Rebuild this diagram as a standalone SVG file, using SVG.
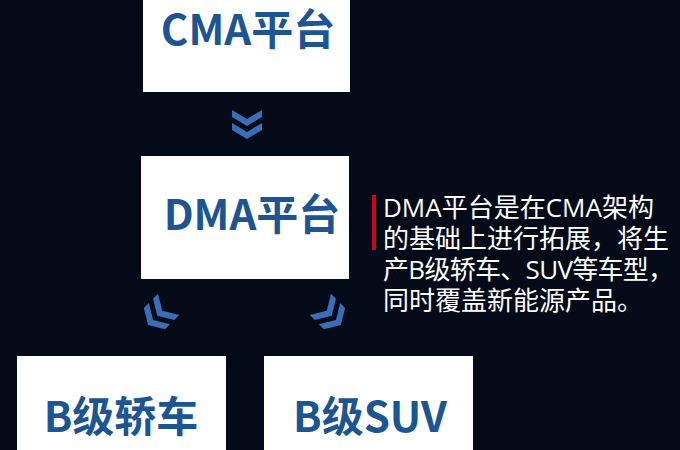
<svg xmlns="http://www.w3.org/2000/svg" xmlns:xlink="http://www.w3.org/1999/xlink" width="680" height="450" viewBox="0 0 680 450">
<style>
.box{fill:#ffffff}
.lbl{font-family:"Noto Sans CJK SC","Liberation Sans",sans-serif;font-weight:bold;font-size:42px;fill:#1d5592;text-anchor:middle}
.para{font-family:"Open Sans","Noto Sans CJK SC",sans-serif;font-size:26px;fill:#ffffff}
.chev{fill:#3a6fb8}
</style>
<defs>
<g id="chevs">
<polygon class="chev" points="-15,-15 0,-6 15,-15 15,-8 0,1 -15,-8"/>
<polygon class="chev" points="-15,-2 0,7 15,-2 15,5 0,14 -15,5"/>
</g>
</defs>
<rect width="680" height="450" fill="#050a18"/>
<g id="cma">
<rect class="box" x="143" y="-2" width="207" height="94"/>
<text class="lbl" x="248" y="45">CMA平台</text>
</g>
<g id="dma">
<rect class="box" x="141" y="156" width="208" height="123"/>
<text class="lbl" x="252" y="230">DMA平台</text>
</g>
<g id="sedan">
<rect class="box" x="17" y="356" width="209" height="100"/>
<text class="lbl" x="121" y="432">B级轿车</text>
</g>
<g id="suv">
<rect class="box" x="264" y="356" width="209" height="100"/>
<text class="lbl" x="370" y="432">B级SUV</text>
</g>
<g id="connectors">
<use xlink:href="#chevs" transform="translate(247,125)"/>
<use xlink:href="#chevs" transform="translate(158,315) rotate(45)"/>
<use xlink:href="#chevs" transform="translate(331,315) rotate(-45)"/>
</g>
<g id="note">
<rect x="372" y="195" width="4" height="55" fill="#d0021b"/>
<text class="para" x="383" y="217">DMA平台是在CMA架构</text>
<text class="para" x="383" y="248">的基础上进行拓展，将生</text>
<text class="para" x="383" y="279" letter-spacing="-0.7">产B级轿车、SUV等车型，</text>
<text class="para" x="383" y="310">同时覆盖新能源产品。</text>
</g>
</svg>
